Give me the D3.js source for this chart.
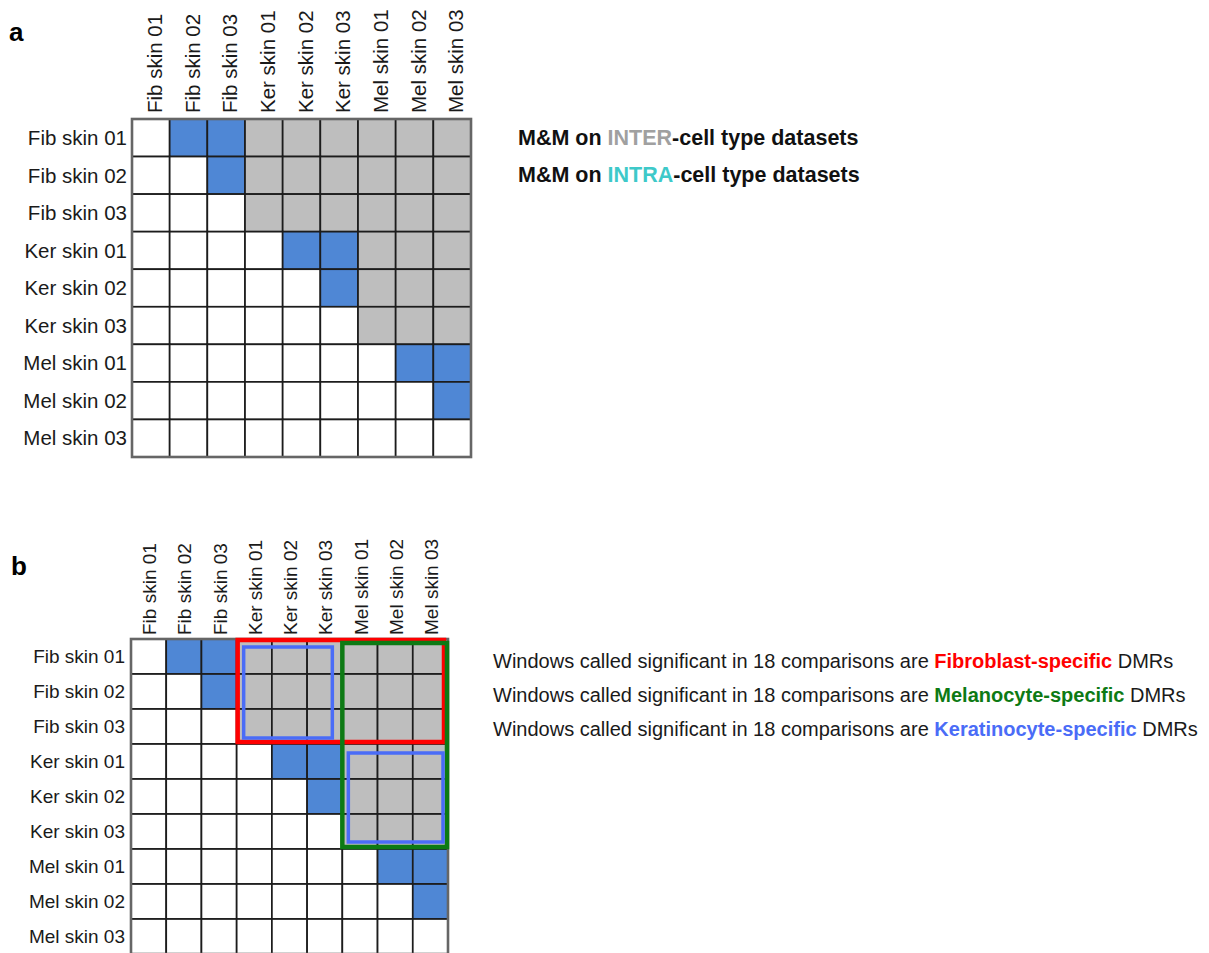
<!DOCTYPE html>
<html>
<head>
<meta charset="utf-8">
<script src="https://cdn.jsdelivr.net/npm/d3@7"></script>
<style>
  body { margin: 0; background: #fff; }
  svg { display: block; font-family: Arial, "Liberation Sans", Helvetica, sans-serif; }
</style>
</head>
<body>
<div id="plot"></div>
<script>
// samples (rows and columns are the same datasets)
var samples = ["Fib skin 01", "Fib skin 02", "Fib skin 03",
               "Ker skin 01", "Ker skin 02", "Ker skin 03",
               "Mel skin 01", "Mel skin 02", "Mel skin 03"];

// cell state per row: W = not compared, B = intra-cell type, G = inter-cell type
var cellsA = ["WBBGGGGGG",
              "WWBGGGGGG",
              "WWWGGGGGG",
              "WWWWBBGGG",
              "WWWWWBGGG",
              "WWWWWWGGG",
              "WWWWWWWBB",
              "WWWWWWWWB",
              "WWWWWWWWW"];
var cellsB = cellsA.slice();

// outlined blocks in panel b
var boxNames = ["Fibroblast", "Melanocyte", "Keratinocyte", "Keratinocyte"];
var boxRows  = [["Fib skin 01", "Fib skin 03"], ["Fib skin 01", "Ker skin 03"],
                ["Fib skin 01", "Fib skin 03"], ["Ker skin 01", "Ker skin 03"]];
var boxCols  = [["Ker skin 01", "Mel skin 03"], ["Mel skin 01", "Mel skin 03"],
                ["Ker skin 01", "Ker skin 03"], ["Mel skin 01", "Mel skin 03"]];

// legend texts
var legendA = [["M&M on ", "INTER", "-cell type datasets"],
               ["M&M on ", "INTRA", "-cell type datasets"]];
var legendB = [["Windows called significant in 18 comparisons are ", "Fibroblast-specific", " DMRs"],
               ["Windows called significant in 18 comparisons are ", "Melanocyte-specific", " DMRs"],
               ["Windows called significant in 18 comparisons are ", "Keratinocyte-specific", " DMRs"]];

var fillColor = {W: "#ffffff", B: "#4f87d5", G: "#bebebe"};
var boxColor = {Fibroblast: "#ff0000", Melanocyte: "#0d7a14", Keratinocyte: "#4a6cf7"};

var svg = d3.select("#plot")
  .append("svg")
    .attr("width", 1209)
    .attr("height", 953);

function drawPanel(g, cells, o) {
  var x = d3.scaleBand().domain(samples).range([0, o.w]);
  var y = d3.scaleBand().domain(samples).range([0, o.h]);

  var data = [];
  cells.forEach(function (row, i) {
    row.split("").forEach(function (c, j) {
      data.push({r: samples[i], c: samples[j], v: c});
    });
  });

  g.selectAll("rect.cell")
    .data(data)
    .enter()
    .append("rect")
      .attr("class", "cell")
      .attr("x", function (d) { return x(d.c); })
      .attr("y", function (d) { return y(d.r); })
      .attr("width", x.bandwidth())
      .attr("height", y.bandwidth())
      .style("fill", function (d) { return fillColor[d.v]; })
      .style("stroke", "#1c1c1c")
      .style("stroke-width", 1.7);

  // outer frame
  g.append("rect")
    .attr("width", o.w)
    .attr("height", o.h)
    .style("fill", "none")
    .style("stroke", "#666")
    .style("stroke-width", 2.6);

  // row labels
  g.selectAll("text.row")
    .data(samples)
    .enter()
    .append("text")
      .attr("class", "row")
      .attr("x", -o.rowGap)
      .attr("y", function (d) { return y(d) + y.bandwidth() / 2; })
      .attr("dy", "0.35em")
      .attr("text-anchor", "end")
      .style("font-size", o.font + "px")
      .style("fill", "#1a1a1a")
      .text(function (d) { return d; });

  // column labels
  g.selectAll("text.col")
    .data(samples)
    .enter()
    .append("text")
      .attr("class", "col")
      .attr("transform", function (d) {
        return "translate(" + (x(d) + x.bandwidth() / 2 + o.colShift) + "," + (-o.colGap) + ") rotate(-90)";
      })
      .attr("dy", "0.35em")
      .style("font-size", o.font + "px")
      .style("fill", "#1a1a1a")
      .text(function (d) { return d; });

  return {x: x, y: y};
}

// panel a
var ga = svg.append("g").attr("transform", "translate(132,119)");
drawPanel(ga, cellsA, {w: 339, h: 338, font: 20.5, rowGap: 5, colGap: 6, colShift: 4});

svg.append("text")
  .attr("x", 9).attr("y", 41)
  .style("font-size", "26px").style("font-weight", "bold")
  .text("a");

var legA = svg.append("g").attr("transform", "translate(518,0)");
legendA.forEach(function (parts, i) {
  var t = legA.append("text")
    .attr("y", 145 + i * 37)
    .style("font-size", "21.5px")
    .style("font-weight", "bold")
    .style("fill", "#111");
  t.append("tspan").text(parts[0]);
  t.append("tspan").style("fill", i === 0 ? "#a0a0a0" : "#3ec9c9").text(parts[1]);
  t.append("tspan").text(parts[2]);
});

// panel b
var gb = svg.append("g").attr("transform", "translate(131,639)");
var sb = drawPanel(gb, cellsB, {w: 317, h: 315, font: 19, rowGap: 6, colGap: 4, colShift: 1});

// inset of each outline (in px) and stroke widths
var boxInset = [[1, 4, 1, 2], [0, 1, 4, 2], [7, 10, 8, 6], [6, 5, 9, 7]]; // left, right, top, bottom
var boxWidth = [4.5, 4.5, 3.5, 3.5];

gb.selectAll("rect.box")
  .data(boxNames)
  .enter()
  .append("rect")
    .attr("class", "box")
    .attr("x", function (d, i) { return sb.x(boxCols[i][0]) + boxInset[i][0]; })
    .attr("y", function (d, i) { return sb.y(boxRows[i][0]) + boxInset[i][2]; })
    .attr("width", function (d, i) {
      return sb.x(boxCols[i][1]) + sb.x.bandwidth() - sb.x(boxCols[i][0]) - boxInset[i][0] - boxInset[i][1];
    })
    .attr("height", function (d, i) {
      return sb.y(boxRows[i][1]) + sb.y.bandwidth() - sb.y(boxRows[i][0]) - boxInset[i][2] - boxInset[i][3];
    })
    .style("fill", "none")
    .style("stroke", function (d) { return boxColor[d]; })
    .style("stroke-width", function (d, i) { return boxWidth[i]; });

svg.append("text")
  .attr("x", 11).attr("y", 575)
  .style("font-size", "26px").style("font-weight", "bold")
  .text("b");

var legB = svg.append("g").attr("transform", "translate(493,0)");
legendB.forEach(function (parts, i) {
  var t = legB.append("text")
    .attr("y", 668 + i * 34)
    .style("font-size", "20px")
    .style("fill", "#1a1a1a");
  t.append("tspan").text(parts[0]);
  t.append("tspan")
    .style("fill", boxColor[boxNames[i]])
    .style("font-weight", "bold")
    .text(parts[1]);
  t.append("tspan").text(parts[2]);
});
</script>
</body>
</html>
